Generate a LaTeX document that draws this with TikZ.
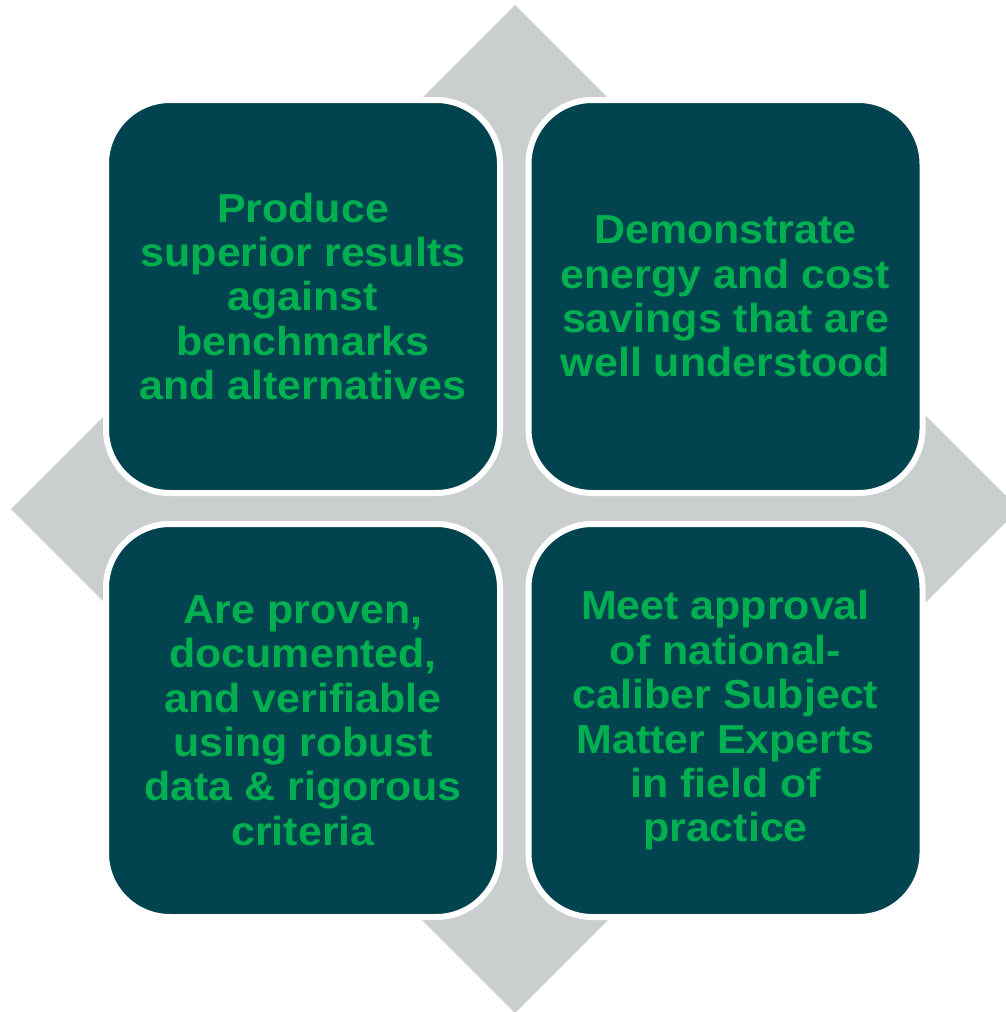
\documentclass[tikz,border=0pt]{standalone}
\usepackage{fontspec}
\setmainfont{Liberation Sans}
\newfontfamily\boxfont{Liberation Sans Bold}[FakeStretch=1.06]
\definecolor{teal}{HTML}{01444F}
\definecolor{txtgreen}{HTML}{00B050}
\definecolor{diagray}{HTML}{CBCECF}
\begin{document}
\begin{tikzpicture}[x=1pt,y=-1pt,
  quadbox/.style={draw=white, line width=6pt, fill=teal, rounded corners=64pt,
    minimum width=394pt, minimum height=393pt, inner sep=0pt,
    text=txtgreen, align=center,
    font=\boxfont\fontsize{40.5}{44.4}\selectfont}]
\useasboundingbox (0,0) rectangle (1006,1012);
\begin{scope}
\clip (0,0) rectangle (1006,1012);
\fill[diagray] (515,5) -- (1019,509) -- (515,1013) -- (11,509) -- cycle;
\end{scope}
\node[quadbox] (tl) at (303,296.5) {Produce\\superior results\\against\\benchmarks\\and alternatives};
\node[quadbox] (tr) at (725.5,296.5) {Demonstrate\\energy and cost\\savings that are\\well understood};
\node[quadbox] (bl) at (303,720.5) {Are proven,\\documented,\\and verifiable\\using robust\\data \& rigorous\\criteria};
\node[quadbox] (br) at (725.5,720.5) {Meet approval\\of national-\\caliber Subject\\Matter Experts\\in field of\\practice};
\end{tikzpicture}
\end{document}
